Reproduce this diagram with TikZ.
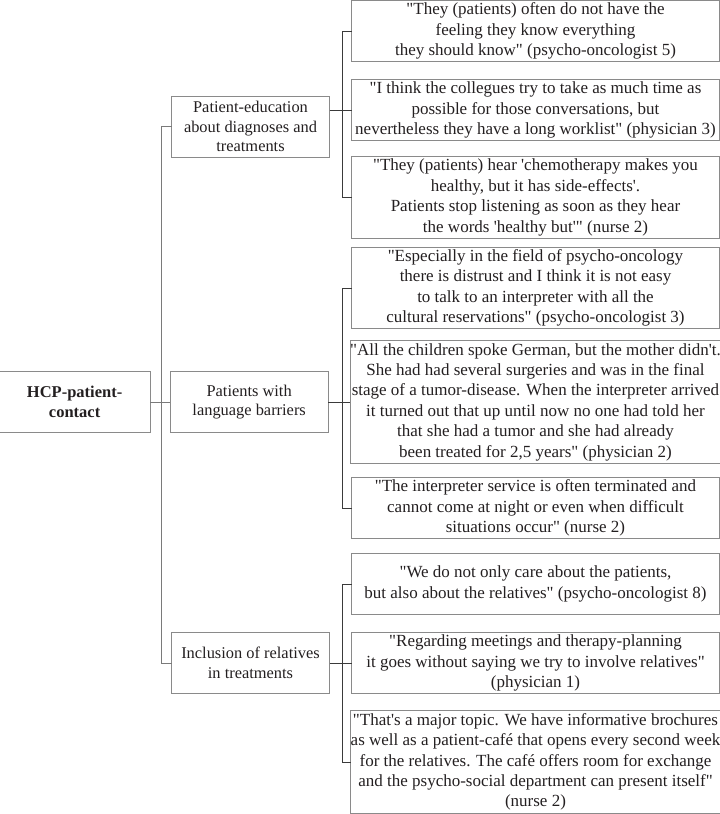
\documentclass[tikz,border=0pt]{standalone}
\usepackage{fontspec}
\usepackage{tikz}
\usetikzlibrary{positioning}
\newfontfamily\figfont{Liberation Serif}
\definecolor{txt}{HTML}{231F20}
\definecolor{frame}{HTML}{8A8A8A}
\definecolor{wire}{HTML}{3A3A3A}
\definecolor{trunk}{HTML}{7A7A7A}

\begin{document}
\begin{tikzpicture}[x=1pt, y=1pt,
    box/.style = {draw=frame, line width=0.9pt, text=txt, align=center,
                  inner sep=0pt, outer sep=0pt},
    quote/.style = {box, minimum width=368pt, minimum height=61pt,
                    font=\figfont\fontsize{17}{20.4}\selectfont},
    topic/.style = {box, minimum width=158pt, minimum height=61pt,
                    font=\figfont\fontsize{16.4}{19.8}\selectfont},
    hub/.style = {box, minimum width=151pt, minimum height=61pt,
                  font=\figfont\bfseries\fontsize{16.5}{20}\selectfont},
    bracket/.style = {draw=wire, line width=0.9pt},
    stem/.style = {draw=trunk, line width=0.9pt}]
  \useasboundingbox (0,0) rectangle (720,-814);

  \node[quote, anchor=north east] (q1) at (719.5,-0.5)
    {"They (patients) often do not have the\\ feeling they know everything\\ they should know" (psycho-oncologist 5)};
  \node[quote, below=18pt of q1] (q2)
    {"I think the collegues try to take as much time as\\ possible for those conversations, but\\ nevertheless they have a long worklist" (physician 3)};
  \node[quote, below=16pt of q2, minimum height=82pt] (q3)
    {"They (patients) hear 'chemotherapy makes you\\ healthy, but it has side-effects'.\\ Patients stop listening as soon as they hear\\ the words 'healthy but'" (nurse 2)};
  \node[quote, below=9pt of q3, minimum height=81pt] (q4)
    {"Especially in the field of psycho-oncology\\ there is distrust and I think it is not easy\\ to talk to an interpreter with all the\\ cultural reservations" (psycho-oncologist 3)};
  \node[quote, below=12pt of q4, minimum height=123pt] (q5)
    {"All the children spoke German, but the mother didn't.\\ She had had several surgeries and was in the final\\ stage of a tumor-disease. When the interpreter arrived\\ it turned out that up until now no one had told her\\ that she had a tumor and she had already\\ been treated for 2,5 years" (physician 2)};
  \node[quote, below=14pt of q5] (q6)
    {"The interpreter service is often terminated and\\ cannot come at night or even when difficult\\ situations occur" (nurse 2)};
  \node[quote, below=15pt of q6] (q7)
    {"We do not only care about the patients,\\ but also about the relatives" (psycho-oncologist 8)};
  \node[quote, below=18pt of q7] (q8)
    {"Regarding meetings and therapy-planning\\ it goes without saying we try to involve relatives"\\ (physician 1)};
  \node[quote, below=17pt of q8, minimum height=103pt] (q9)
    {"That's a major topic. We have informative brochures\\ as well as a patient-café that opens every second week\\ for the relatives. The café offers room for exchange\\ and the psycho-social department can present itself"\\ (nurse 2)};

  \node[topic, left=22pt of q2, yshift=-16.5pt] (c1) {Patient-education\\ about diagnoses and\\ treatments};
  \node[topic, left=22pt of q5] (c2) {Patients with\\ language barriers};
  \node[topic, left=22pt of q8] (c3) {Inclusion of relatives\\ in treatments};

  \node[hub, left=20pt of c2] (hcp) {HCP-patient-\\ contact};

  \draw[stem] (hcp) -- (c2);
  \draw[stem] (c1.west) -- ++(-10,0) |- (c3.west);

  \draw[bracket] (q1.west) -- ++(-9.5,0) |- (q3.west);
  \draw[bracket] (c1.east |- q2.west) -- (q2.west);
  \draw[bracket] (q4.west) -- ++(-9.5,0) |- (q6.west);
  \draw[bracket] (c2) -- (q5);
  \draw[bracket] (q7.west) -- ++(-9.5,0) |- (q9.west);
  \draw[bracket] (c3) -- (q8);
\end{tikzpicture}
\end{document}
